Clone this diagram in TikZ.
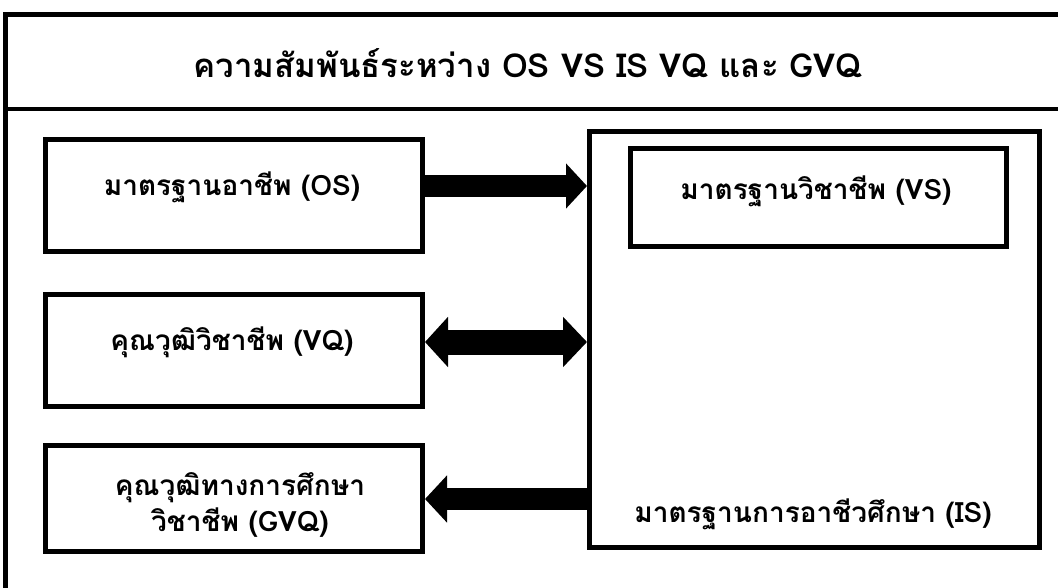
\documentclass[tikz,border=0pt]{standalone}
\usepackage{fontspec}
\newfontfamily\thaifont[Script=Thai]{Loma}
\usetikzlibrary{arrows.meta}
\tikzset{
  frame/.style={line width=4.5pt},
  box/.style={draw, line width=5pt, inner sep=0pt, align=center},
  lbl/.style={font=\thaifont\bfseries\fontsize{28}{36}\selectfont, align=center},
  fat/.style={line width=22pt},
}
\begin{document}
\begin{tikzpicture}[x=1pt,y=-1pt]
\useasboundingbox (0,0) rectangle (1058,587);
\clip (0,0) rectangle (1058,587);
% outer frame
\draw[frame] (5.5,700) -- (5.5,14.5) -- (1100,14.5);
\draw[frame] (5.5,109) -- (1100,109);
\node[lbl, font=\thaifont\bfseries\fontsize{33}{38}\selectfont] (title) at (528,63) {ความสัมพันธ์ระหว่าง OS VS IS VQ และ GVQ};
% left boxes
\node[box, minimum width=377pt, minimum height=112pt] (os) at (234,195.5) {};
\node[lbl] (ost) at (232,187) {มาตรฐานอาชีพ (OS)};
\node[box, minimum width=377pt, minimum height=112pt] (vq) at (234,350.5) {};
\node[lbl] (vqt) at (232,342) {คุณวุฒิวิชาชีพ (VQ)};
\node[box, minimum width=377pt, minimum height=106pt] (gvq) at (234,498.5) {};
\node[lbl] (gvqt) at (240,505) {คุณวุฒิทางการศึกษา\\วิชาชีพ (GVQ)};
% right big box
\node[box, minimum width=450pt, minimum height=416pt] (is) at (814.5,339) {};
\node[box, minimum width=376pt, minimum height=98pt] (vs) at (818.5,197) {};
\node[lbl] (vst) at (816,191) {มาตรฐานวิชาชีพ (VS)};
\node[lbl] (ist) at (813,514) {มาตรฐานการอาชีวศึกษา (IS)};
% arrows
\draw[fat, -{Triangle[length=21pt,width=44pt]}] (os.east |- 0,186) -- (is.west |- 0,186);
\draw[fat, line width=25pt, {Triangle[length=23pt,width=49pt]}-{Triangle[length=24pt,width=49pt]}] (vq.east |- 0,342) -- (is.west |- 0,342);
\draw[fat, -{Triangle[length=22pt,width=46pt]}] (is.west |- 0,499) -- (gvq.east |- 0,499);
\end{tikzpicture}
\end{document}
